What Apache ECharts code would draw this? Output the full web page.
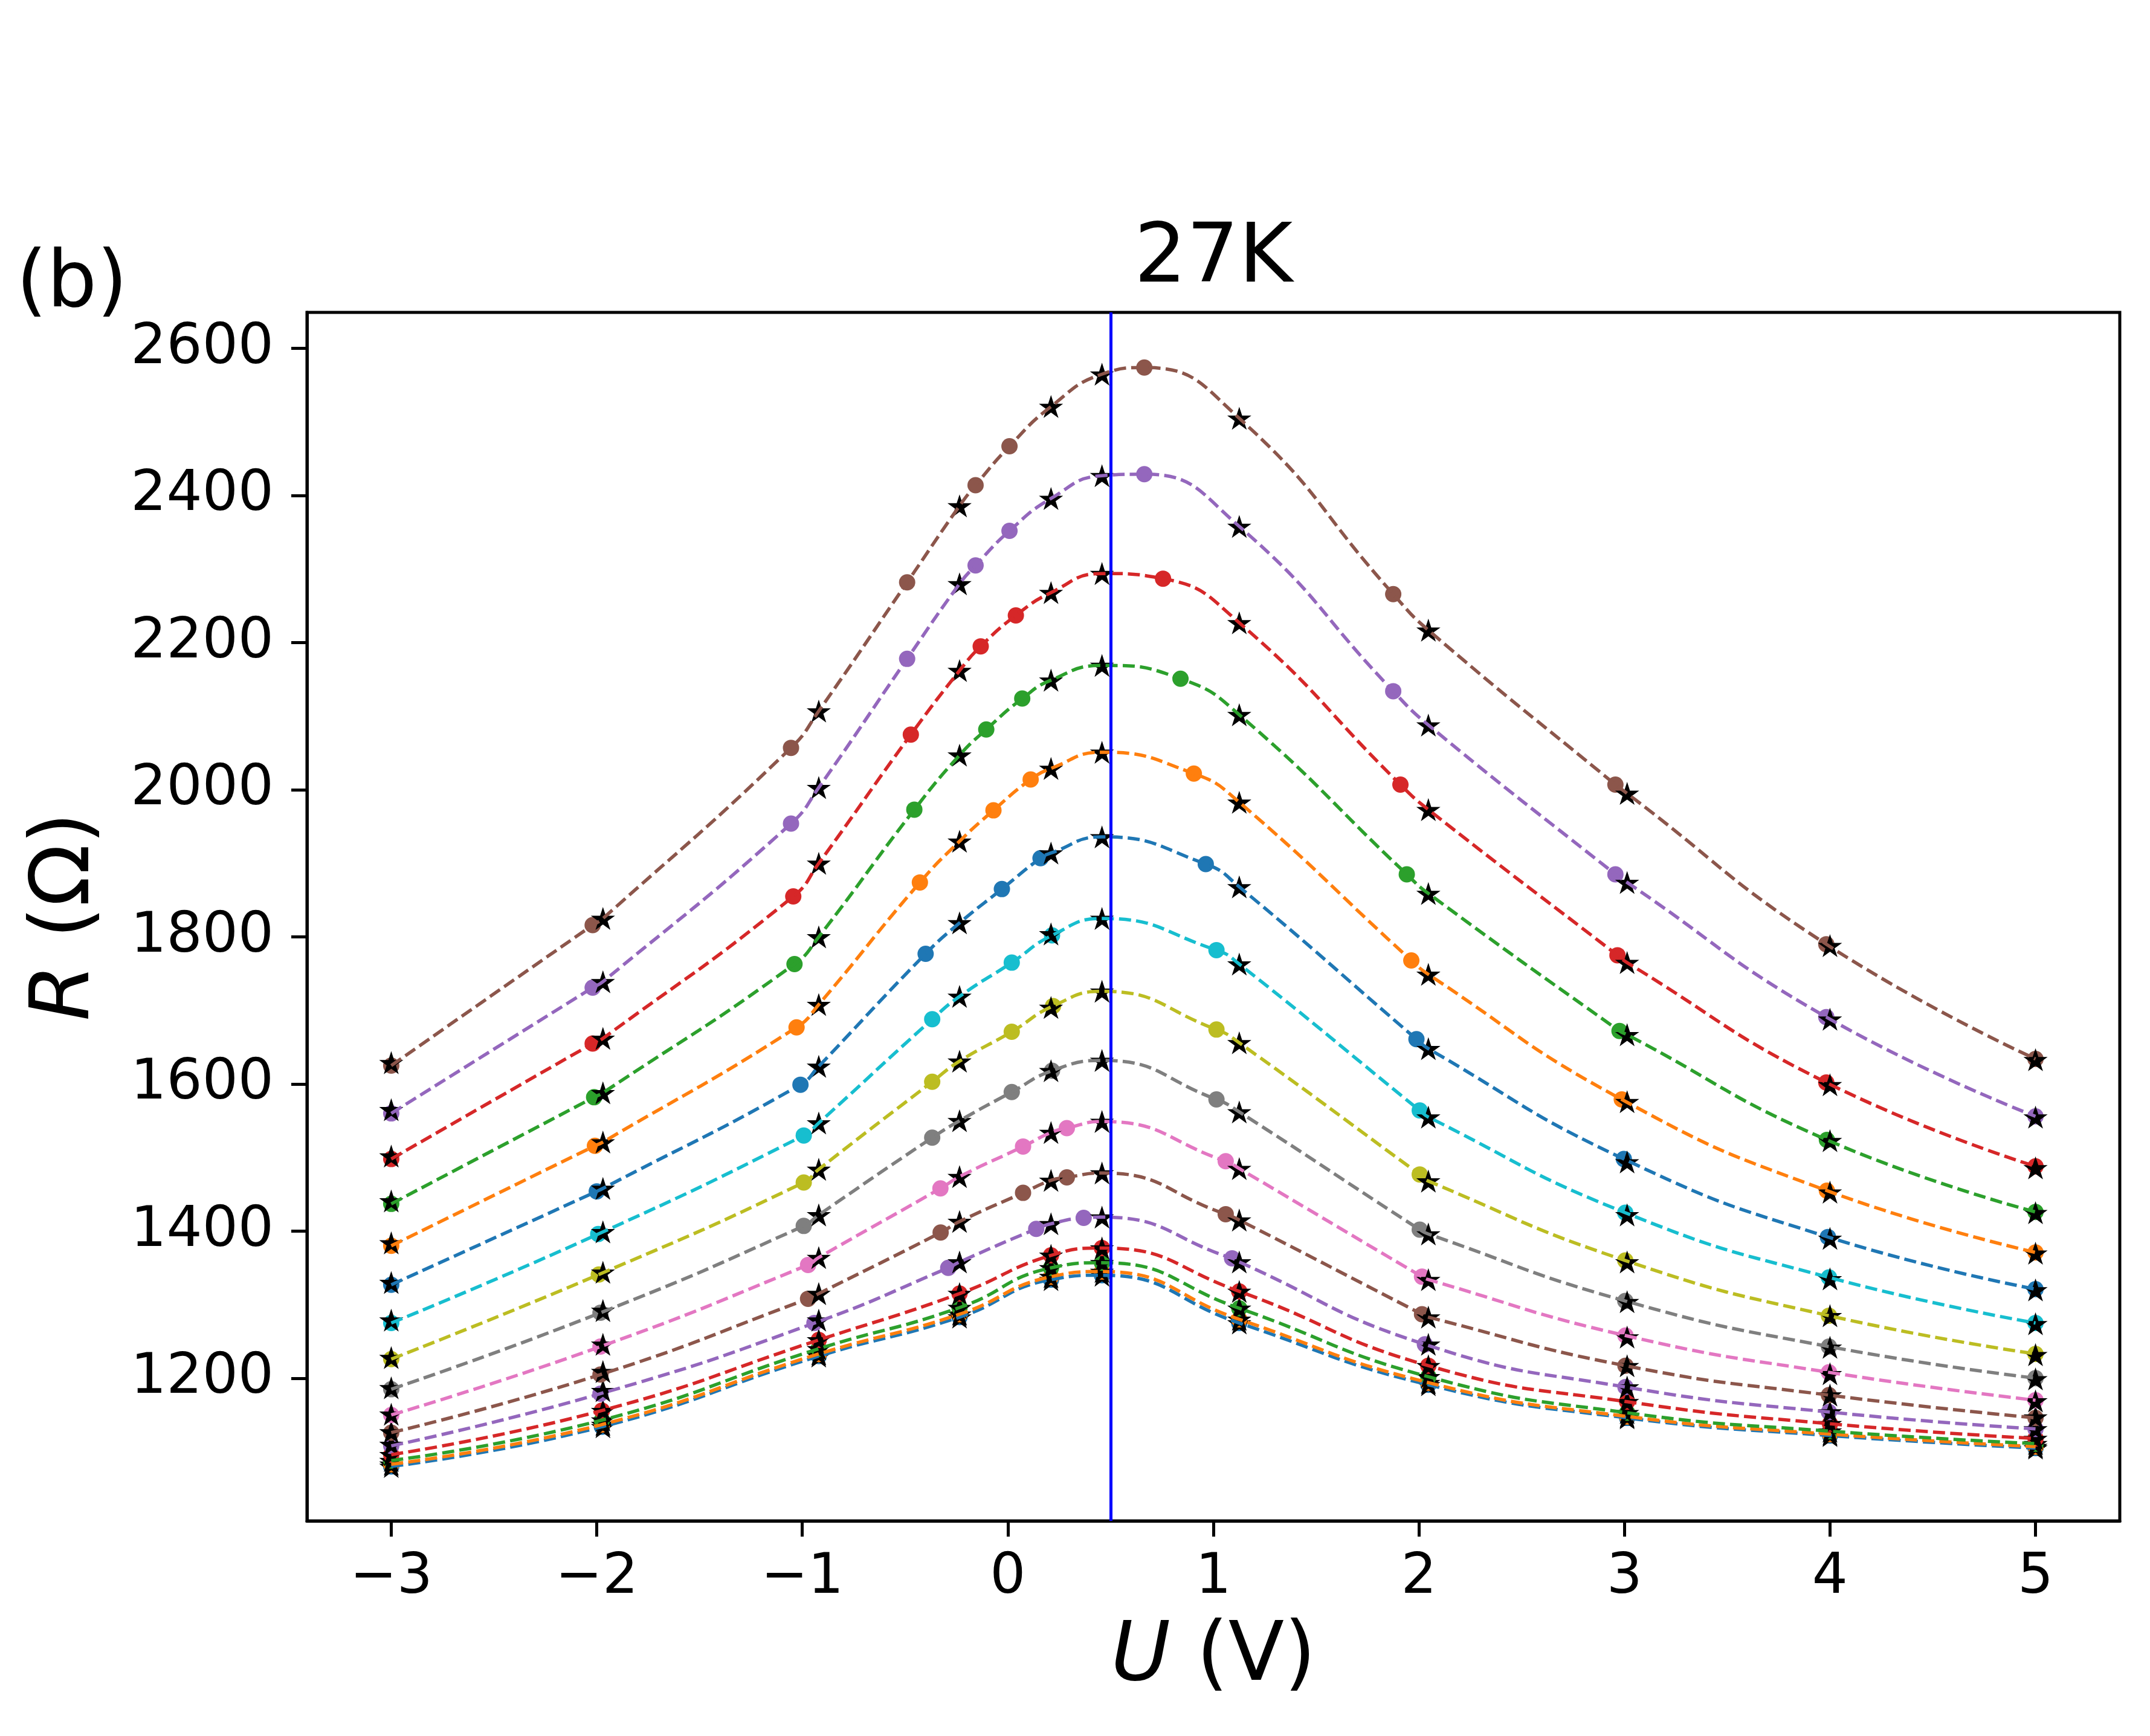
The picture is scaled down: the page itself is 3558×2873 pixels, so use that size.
<!DOCTYPE html>
<html>
<head>
<meta charset="utf-8">
<title>27K</title>
<script src="https://cdn.jsdelivr.net/npm/echarts@6/dist/echarts.min.js"></script>
<style>
  html, body { margin: 0; padding: 0; background: #fff; }
  #chart { width: 3558px; height: 2873px; }
</style>
</head>
<body>
<div id="chart"></div>
<script>
// U (V) of the black stars, same for every curve
var starU = [-3.0, -1.97, -0.92, -0.235, 0.21, 0.458, 1.126, 2.046, 3.013, 4.0, 5.0];

// one row per curve, top curve first
var dotU = [
  [-3.0, -2.02, -1.055, -0.49, -0.157, 0.008, 0.664, 1.875, 2.956, 3.982, 5.0],
  [-3.0, -2.02, -1.055, -0.49, -0.157, 0.008, 0.664, 1.875, 2.956, 3.982, 5.0],
  [-3.0, -2.02, -1.044, -0.472, -0.132, 0.039, 0.755, 1.91, 2.966, 3.982, 5.0],
  [-3.0, -2.013, -1.038, -0.455, -0.105, 0.07, 0.84, 1.941, 2.976, 3.985, 5.0],
  [-3.0, -2.009, -1.028, -0.428, -0.07, 0.111, 0.905, 1.963, 2.987, 3.985, 5.0],
  [-3.0, -2.0, -1.009, -0.4, -0.029, 0.159, 0.963, 1.988, 2.997, 3.99, 5.0],
  [-3.0, -1.993, -0.993, -0.368, 0.019, 0.215, 1.015, 2.004, 3.004, 3.995, 5.0],
  [-3.0, -1.99, -0.993, -0.368, 0.019, 0.22, 1.015, 2.004, 3.004, 3.995, 5.0],
  [-3.0, -1.982, -0.993, -0.368, 0.019, 0.215, 1.015, 2.004, 3.004, 3.995, 5.0],
  [-3.0, -1.982, -0.972, -0.328, 0.074, 0.287, 1.06, 2.015, 3.005, 3.995, 5.0],
  [-3.0, -1.982, -0.972, -0.327, 0.074, 0.287, 1.06, 2.015, 3.005, 3.995, 5.0],
  [-3.0, -1.982, -0.941, -0.29, 0.138, 0.369, 1.091, 2.029, 3.005, 3.995, 5.0],
  [-3.0, -1.975, -0.92, -0.235, 0.21, 0.458, 1.126, 2.046, 3.013, 4.0, 5.0],
  [-3.0, -1.975, -0.92, -0.235, 0.21, 0.458, 1.126, 2.046, 3.013, 4.0, 5.0],
  [-3.0, -1.975, -0.92, -0.235, 0.21, 0.458, 1.126, 2.046, 3.013, 4.0, 5.0],
  [-3.0, -1.975, -0.92, -0.235, 0.21, 0.458, 1.126, 2.046, 3.013, 4.0, 5.0]
];
var dotR = [
  [1625, 1816, 2057, 2282, 2414, 2467, 2574, 2266, 2007, 1790, 1634],
  [1560, 1731, 1954, 2178, 2305, 2352, 2429, 2134, 1885, 1691, 1556],
  [1498, 1655, 1855, 2075, 2195, 2237, 2287, 2007, 1775, 1602, 1488],
  [1437, 1582, 1763, 1973, 2082, 2124, 2151, 1885, 1672, 1524, 1426],
  [1380, 1516, 1677, 1874, 1972, 2014, 2022, 1768, 1579, 1455, 1371],
  [1327, 1454, 1599, 1777, 1865, 1907, 1899, 1661, 1498, 1392, 1321],
  [1275, 1396, 1530, 1688, 1765, 1802, 1782, 1564, 1425, 1337, 1275],
  [1226, 1341, 1466, 1603, 1671, 1706, 1674, 1477, 1360, 1285, 1233],
  [1185, 1289, 1407, 1527, 1589, 1618, 1579, 1402, 1305, 1243, 1200],
  [1150, 1243, 1354, 1458, 1515, 1540, 1495, 1338, 1258, 1208, 1170],
  [1126, 1205, 1308, 1398, 1452, 1473, 1423, 1287, 1217, 1177, 1146],
  [1108, 1179, 1275, 1350, 1403, 1418, 1363, 1246, 1188, 1154, 1131],
  [1096, 1156, 1252, 1315, 1367, 1377, 1318, 1217, 1168, 1138, 1118],
  [1088, 1143, 1240, 1296, 1350, 1357, 1295, 1202, 1153, 1128, 1111],
  [1083, 1137, 1233, 1287, 1338, 1345, 1280, 1194, 1148, 1124, 1107],
  [1080, 1134, 1230, 1283, 1334, 1340, 1275, 1191, 1146, 1122, 1105]
];
var starR = [
  [1629, 1825, 2107, 2386, 2521, 2565, 2505, 2217, 1995, 1788, 1633],
  [1565, 1739, 2003, 2280, 2396, 2427, 2358, 2088, 1874, 1688, 1555],
  [1502, 1662, 1900, 2162, 2268, 2294, 2227, 1973, 1765, 1599, 1486],
  [1441, 1588, 1800, 2047, 2149, 2169, 2102, 1859, 1667, 1523, 1425],
  [1384, 1521, 1708, 1930, 2029, 2051, 1983, 1749, 1576, 1453, 1370],
  [1330, 1458, 1624, 1819, 1914, 1936, 1868, 1648, 1494, 1390, 1320],
  [1279, 1399, 1547, 1719, 1804, 1825, 1763, 1555, 1422, 1335, 1274],
  [1228, 1344, 1484, 1631, 1704, 1726, 1656, 1468, 1358, 1285, 1232],
  [1187, 1292, 1422, 1550, 1618, 1632, 1562, 1396, 1304, 1242, 1199],
  [1151, 1246, 1364, 1474, 1534, 1549, 1485, 1334, 1256, 1206, 1169],
  [1127, 1209, 1315, 1413, 1469, 1479, 1415, 1283, 1217, 1177, 1147],
  [1110, 1183, 1279, 1358, 1410, 1419, 1358, 1246, 1188, 1154, 1131],
  [1096, 1156, 1252, 1315, 1367, 1377, 1318, 1217, 1168, 1138, 1118],
  [1088, 1143, 1240, 1296, 1350, 1357, 1295, 1202, 1153, 1128, 1111],
  [1083, 1137, 1233, 1287, 1338, 1345, 1280, 1194, 1148, 1124, 1107],
  [1080, 1134, 1230, 1283, 1334, 1340, 1275, 1191, 1146, 1122, 1105]
];

var xTicks = [-3, -2, -1, 0, 1, 2, 3, 4, 5];
var yTicks = [1200, 1400, 1600, 1800, 2000, 2200, 2400, 2600];
var vLineU = 0.5;

// matplotlib tab10, in the same order as the rows above
var colors = ['#8c564b', '#9467bd', '#d62728', '#2ca02c', '#ff7f0e', '#1f77b4', '#17becf', '#bcbd22',
              '#7f7f7f', '#e377c2', '#8c564b', '#9467bd', '#d62728', '#2ca02c', '#ff7f0e', '#1f77b4'];

var FONT = 'DejaVu Sans';

// 5 pointed star like matplotlib's '*'
function starSymbol() {
  var pts = [];
  for (var i = 0; i < 10; i++) {
    var r = i % 2 === 0 ? 1 : 0.381966;
    var a = Math.PI / 2 + i * Math.PI / 5;
    pts.push((r * Math.cos(a)).toFixed(4) + ' ' + (-r * Math.sin(a)).toFixed(4));
  }
  return 'path://M' + pts.join(' L') + ' Z';
}

// the dashed curve goes through the dots and the stars
function curvePoints(k) {
  var pts = [];
  for (var i = 0; i < dotU[k].length; i++) pts.push([dotU[k][i], dotR[k][i]]);
  for (var j = 0; j < starU.length; j++) {
    var u = starU[j];
    var close = dotU[k].some(function (d) { return Math.abs(d - u) < 0.03; });
    if (!close) pts.push([u, starR[k][j]]);
  }
  pts.sort(function (a, b) { return a[0] - b[0]; });
  return pts;
}

var series = [];
// bottom curve is drawn first, like the colour cycle
for (var k = dotU.length - 1; k >= 0; k--) {
  series.push({
    type: 'line',
    data: curvePoints(k),
    smooth: 0.5,
    showSymbol: false,
    silent: true,
    lineStyle: { color: colors[k], width: 5.5, type: [20, 8.5] }
  });
  series.push({
    type: 'scatter',
    data: dotU[k].map(function (u, i) { return [u, dotR[k][i]]; }),
    symbol: 'circle',
    symbolSize: 27,
    silent: true,
    itemStyle: { color: colors[k], opacity: 1 }
  });
  series.push({
    type: 'scatter',
    data: starU.map(function (u, i) { return [u, starR[k][i]]; }),
    symbol: starSymbol(),
    symbolKeepAspect: true,
    symbolSize: 40,
    silent: true,
    itemStyle: { color: '#000', opacity: 1 }
  });
}
series.push({
  type: 'line',
  data: [],
  silent: true,
  markLine: {
    symbol: 'none',
    silent: true,
    label: { show: false },
    lineStyle: { color: '#0000ff', width: 5, type: 'solid' },
    data: [{ xAxis: vLineU }]
  }
});

var chart = echarts.init(document.getElementById('chart'));
chart.setOption({
  animation: false,
  backgroundColor: '#fff',
  grid: {
    left: 508, top: 517, width: 3000, height: 2000,
    show: true, borderColor: '#000', borderWidth: 5,
    containLabel: false, outerBoundsMode: 'none'
  },
  graphic: [
    {
      type: 'text', x: 2008, y: 431,
      style: { text: '27K', font: '136px "DejaVu Sans"', fill: '#000', align: 'center', verticalAlign: 'middle' }
    },
    {
      type: 'text', x: 27, y: 473,
      style: { text: '(b)', font: '130px "DejaVu Sans"', fill: '#000', align: 'left', verticalAlign: 'middle' }
    }
  ],
  xAxis: {
    type: 'value',
    min: -3.41,
    max: 5.41,
    splitLine: { show: false },
    axisLine: { show: true, onZero: false, lineStyle: { color: '#000', width: 5 } },
    axisTick: { show: true, length: 26, customValues: xTicks, lineStyle: { color: '#000', width: 5 } },
    axisLabel: {
      customValues: xTicks,
      formatter: function (v) { return v < 0 ? '\u2212' + (-v) : String(v); },
      fontSize: 93, fontFamily: FONT, color: '#000', margin: 48
    },
    name: '{i|U} (V)',
    nameLocation: 'middle',
    nameGap: 160,
    nameTextStyle: {
      fontSize: 135, fontFamily: FONT, color: '#000',
      rich: { i: { fontSize: 135, fontFamily: FONT, fontStyle: 'italic', color: '#000' } }
    }
  },
  yAxis: {
    type: 'value',
    min: 1006,
    max: 2649,
    splitLine: { show: false },
    axisLine: { show: true, onZero: false, lineStyle: { color: '#000', width: 5 } },
    axisTick: { show: true, length: 26, customValues: yTicks, lineStyle: { color: '#000', width: 5 } },
    axisLabel: {
      customValues: yTicks,
      formatter: function (v) { return String(v); },
      fontSize: 93, fontFamily: FONT, color: '#000', margin: 55
    },
    name: '{i|R} (\u03a9)',
    nameLocation: 'middle',
    nameRotate: 90,
    nameGap: 330,
    nameTextStyle: {
      fontSize: 135, fontFamily: FONT, color: '#000',
      rich: { i: { fontSize: 135, fontFamily: FONT, fontStyle: 'italic', color: '#000' } }
    }
  },
  series: series
});
</script>
</body>
</html>
